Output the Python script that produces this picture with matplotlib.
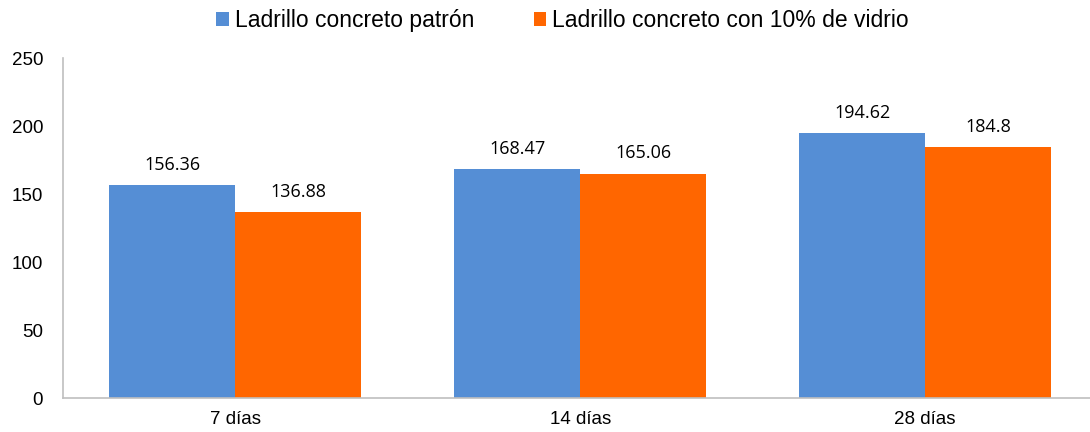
import matplotlib.pyplot as plt
import numpy as np

categorias = ['7 días', '14 días', '28 días']
patron = [156.36, 168.47, 194.62]
vidrio = [136.88, 165.06, 184.8]
series = ['Ladrillo concreto patrón', 'Ladrillo concreto con 10% de vidrio']

azul = '#558ED5'
naranja = '#FF6600'

plt.rcParams['font.family'] = ['Liberation Sans', 'DejaVu Sans']

fig = plt.figure(figsize=(10.9, 4.32), dpi=100)
# el eje se extiende un poco más allá del borde derecho
ax = fig.add_axes([0.0575, 0.0787, 0.9495, 0.7870])

x = np.arange(len(categorias))
w = 0.365
b1 = ax.bar(x - w / 2, patron, w, color=azul, label=series[0])
b2 = ax.bar(x + w / 2, vidrio, w, color=naranja, label=series[1])

for barras in (b1, b2):
    for b in barras:
        v = b.get_height()
        ax.annotate(f'{v:g}', (b.get_x() + b.get_width() / 2, v),
                    xytext=(0, 8), textcoords='offset points',
                    ha='center', va='bottom', fontsize=13,
                    family=['Open Sans', 'DejaVu Sans'])

ax.set_xlim(-0.5, 2.5)
ax.set_ylim(0, 250)
ax.set_yticks(range(0, 251, 50))
ax.set_xticks(x)
ax.set_xticklabels(categorias)
ax.tick_params(axis='both', length=0, labelsize=13.5)
ax.tick_params(axis='y', pad=14)
ax.tick_params(axis='x', pad=9)

for s in ('top', 'right'):
    ax.spines[s].set_visible(False)
for s in ('left', 'bottom'):
    ax.spines[s].set_color('#BFBFBF')
    ax.spines[s].set_linewidth(1.2)

fig.legend(handles=[b1, b2], labels=series, loc='center',
           bbox_to_anchor=(0.516, 0.953), ncol=2, frameon=False,
           fontsize=16.5, handlelength=0.55, handleheight=0.55,
           handletextpad=0.25, columnspacing=2.6, borderaxespad=0)

fig.savefig('out.png', dpi=100)
